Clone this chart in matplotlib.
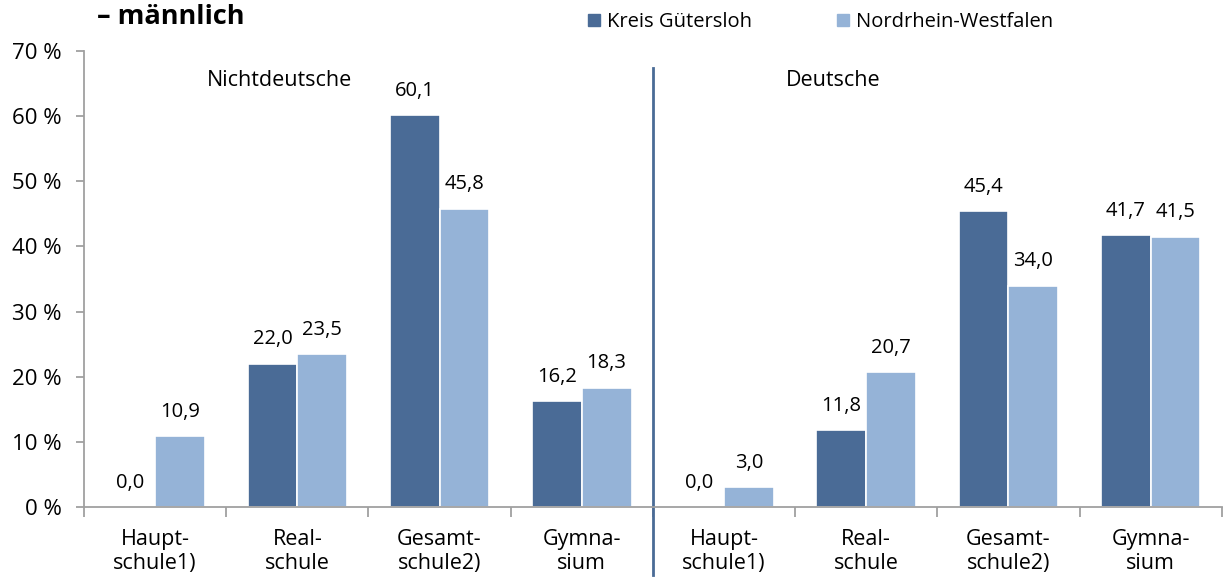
import numpy as np
import matplotlib.pyplot as plt
from matplotlib.patches import Patch

plt.rcParams['font.family'] = ['Open Sans', 'DejaVu Sans']

schulformen = ["Haupt-\nschule1)", "Real-\nschule", "Gesamt-\nschule2)", "Gymna-\nsium",
               "Haupt-\nschule1)", "Real-\nschule", "Gesamt-\nschule2)", "Gymna-\nsium"]
kreis = [0.0, 22.0, 60.1, 16.2, 0.0, 11.8, 45.4, 41.7]
nrw = [10.9, 23.5, 45.8, 18.3, 3.0, 20.7, 34.0, 41.5]

c_kreis = "#4a6b96"
c_nrw = "#95b3d7"

fig = plt.figure(figsize=(12.23, 5.83), dpi=100)
ax = fig.add_axes([84/1223, 1-507/583, 1-84/1223 - 0.001, (507-51)/583])

x = np.arange(len(schulformen))
w = 0.35
ax.bar(x - w, kreis, w, align='edge', color=c_kreis, edgecolor='white', linewidth=1.2)
ax.bar(x, nrw, w, align='edge', color=c_nrw, edgecolor='white', linewidth=1.2)

for xi, v in zip(x, kreis):
    ax.text(xi - w/2, v + 2.2, f"{v:.1f}".replace('.', ','), ha='center', va='bottom', fontsize=14.5)
for xi, v in zip(x, nrw):
    ax.text(xi + w/2, v + 2.2, f"{v:.1f}".replace('.', ','), ha='center', va='bottom', fontsize=14.5)

ax.set_xlim(-0.5, 7.5)
ax.set_ylim(0, 70)
ax.set_yticks(range(0, 71, 10))
ax.set_yticklabels([f"{t} %" for t in range(0, 71, 10)], fontsize=16)
ax.set_xticks(x)
ax.set_xticklabels(schulformen, fontsize=15.5)
ax.set_xticks(np.arange(-0.5, 8, 1), minor=True)
ax.tick_params(axis='x', which='major', length=0, pad=16)
ax.tick_params(axis='x', which='minor', length=7, color='#a0a0a0', width=1.3)
ax.tick_params(axis='y', length=6, color='#a0a0a0', width=1.3, pad=10)

for s in ['top', 'right']:
    ax.spines[s].set_visible(False)
for s in ['left', 'bottom']:
    ax.spines[s].set_color('#a0a0a0')
    ax.spines[s].set_linewidth(1.3)

ax.plot([3.5, 3.5], [67.4, -10.4], color=c_kreis, linewidth=2, clip_on=False)
ax.text(0.875, 65.5, "Nichtdeutsche", ha='center', va='center', fontsize=15.5)
ax.text(4.77, 65.5, "Deutsche", ha='center', va='center', fontsize=15.5)

fig.text(97/1223, 1-17/583, "– männlich", fontsize=19.5, fontweight='bold', ha='left', va='center')
handles = [Patch(color=c_kreis, label="Kreis Gütersloh"), Patch(color=c_nrw, label="Nordrhein-Westfalen")]
fig.legend(handles=handles, loc='center left', bbox_to_anchor=(570/1223, 1-22/583), ncol=2,
           frameon=False, fontsize=14.5, handlelength=0.6, handleheight=0.6, handletextpad=0.35,
           columnspacing=4.2)

fig.savefig("out.png", dpi=100)
